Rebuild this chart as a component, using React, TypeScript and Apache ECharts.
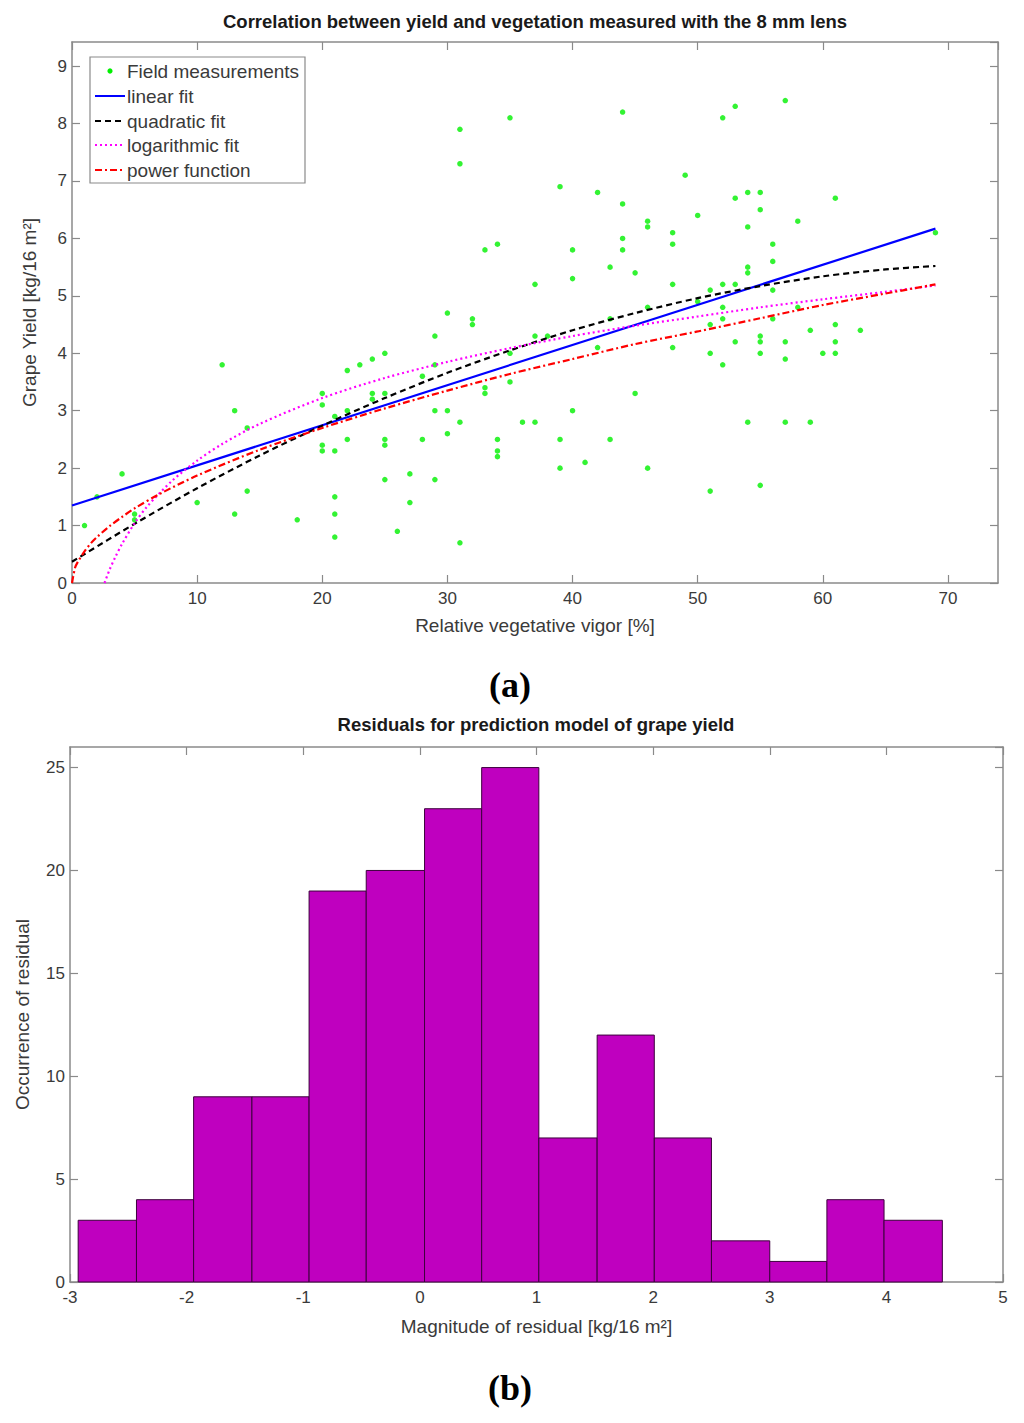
import React, { useEffect, useRef } from "react";
import * as echarts from "echarts";

// ---- Panel (a): field measurements ----
const vigor = [
  1, 2, 4, 5, 5, 10, 12, 13, 13, 14, 14, 18,
  20, 20, 20, 20, 21, 21, 21, 21, 21, 22, 22, 22, 23, 24, 24, 24,
  25, 25, 25, 25, 25, 26, 27, 27, 28, 28, 29, 29, 29, 29,
  30, 30, 30, 31, 31, 31, 31, 32, 32, 33, 33, 33, 34, 34, 34, 34,
  35, 35, 35, 36, 37, 37, 37, 38, 39, 39, 39, 40, 40, 40, 41, 42, 42,
  43, 43, 43, 44, 44, 44, 44, 45, 45, 46, 46, 46, 46, 48, 48, 48, 48,
  49, 50, 50, 51, 51, 51, 51, 52, 52, 52, 52, 52, 53, 53, 53, 53,
  54, 54, 54, 54, 54, 55, 55, 55, 55, 55, 55, 56, 56, 56, 56,
  57, 57, 57, 57, 58, 58, 59, 59, 60, 61, 61, 61, 61, 63, 69,
];
const grapeYield = [
  1.0, 1.5, 1.9, 1.2, 1.1, 1.4, 3.8, 3.0, 1.2, 2.7, 1.6, 1.1,
  3.3, 3.1, 2.4, 2.3, 2.9, 2.3, 1.5, 1.2, 0.8, 3.7, 3.0, 2.5, 3.8, 3.9, 3.3, 3.2,
  4.0, 3.3, 2.5, 2.4, 1.8, 0.9, 1.9, 1.4, 3.6, 2.5, 4.3, 3.8, 3.0, 1.8,
  4.7, 3.0, 2.6, 7.9, 7.3, 2.8, 0.7, 4.6, 4.5, 5.8, 3.4, 3.3, 5.9, 2.5, 2.3, 2.2,
  8.1, 4.0, 3.5, 2.8, 5.2, 4.3, 2.8, 4.3, 6.9, 2.5, 2.0, 5.8, 5.3, 3.0, 2.1, 6.8, 4.1,
  5.5, 4.6, 2.5, 8.2, 6.6, 6.0, 5.8, 5.4, 3.3, 6.3, 6.2, 4.8, 2.0, 6.1, 5.9, 5.2, 4.1,
  7.1, 6.4, 4.9, 5.1, 4.5, 4.0, 1.6, 8.1, 5.2, 4.8, 4.6, 3.8, 8.3, 6.7, 5.2, 4.2,
  6.8, 6.2, 5.5, 5.4, 2.8, 6.8, 6.5, 4.3, 4.2, 4.0, 1.7, 5.9, 5.6, 5.1, 4.6,
  8.4, 4.2, 3.9, 2.8, 6.3, 4.8, 4.4, 2.8, 4.0, 6.7, 4.5, 4.2, 4.0, 4.4, 6.1,
];

// Fitted curves at sample positions
const linearX = [0, 69];
const linearY = [1.35, 6.17];
const quadX = [0, 5, 10, 15, 20, 25, 30, 35, 40, 45, 50, 55, 60, 65, 69];
const quadY = [0.37, 1.03, 1.65, 2.22, 2.74, 3.22, 3.66, 4.05, 4.4, 4.7, 4.96, 5.17, 5.34, 5.46, 5.52];
const logX = [2.6, 3, 3.5, 4, 5, 6, 8, 10, 12, 15, 20, 25, 30, 35, 40, 45, 50, 55, 60, 65, 69];
const logY = [0, 0.23, 0.47, 0.68, 1.04, 1.33, 1.78, 2.13, 2.42, 2.77, 3.22, 3.57, 3.85, 4.09, 4.3, 4.48, 4.64, 4.8, 4.94, 5.07, 5.18];
const powX = [0, 0.25, 0.5, 1, 1.5, 2, 3, 4, 5, 7, 10, 15, 20, 25, 30, 35, 40, 45, 50, 55, 60, 65, 69];
const powY = [0, 0.27, 0.38, 0.55, 0.69, 0.8, 0.99, 1.15, 1.3, 1.55, 1.87, 2.32, 2.7, 3.04, 3.35, 3.64, 3.9, 4.16, 4.38, 4.61, 4.84, 5.04, 5.2];

const legendNames = ["Field measurements", "linear fit", "quadratic fit", "logarithmic fit", "power function"];

// ---- Panel (b): residual histogram ----
const binEdges = [-2.93, -2.43, -1.94, -1.44, -0.95, -0.46, 0.04, 0.53, 1.02, 1.52, 2.01, 2.5, 3.0, 3.49, 3.98, 4.48];
const binCounts = [3, 4, 9, 9, 19, 20, 23, 25, 7, 12, 7, 2, 1, 4, 3];

const FONT = "'Liberation Sans', Arial, Helvetica, sans-serif";
const AXIS_GRAY = "#8a8a8a";
const LABEL = "#3a3a3a";

function pairs(xs: number[], ys: number[]) {
  return xs.map((x, i) => [x, ys[i]]);
}

function baseAxis(extra: any) {
  return {
    type: "value",
    axisLine: { show: true, onZero: false, lineStyle: { color: AXIS_GRAY, width: 1.5 } },
    axisTick: { show: true, inside: true, length: 8, lineStyle: { color: AXIS_GRAY, width: 1.2 } },
    splitLine: { show: false },
    axisLabel: { color: LABEL, fontSize: 17, fontFamily: FONT, showMaxLabel: false },
    nameTextStyle: { color: LABEL, fontSize: 19, fontFamily: FONT },
    ...extra,
  };
}

export default function App() {
  const ref = useRef<HTMLDivElement>(null);

  useEffect(() => {
    if (!ref.current) return;
    const chart = echarts.init(ref.current, undefined, { renderer: "svg" });

    const legendRowY = [71, 96, 121, 145, 170];
    const legendLines: any[] = [
      { color: "#0000ff", dash: null },
      { color: "#000000", dash: [6, 4] },
      { color: "#ff00ff", dash: [2, 3] },
      { color: "#ff0000", dash: [7, 3, 2, 3] },
    ];

    const legendGraphic: any[] = [
      {
        type: "rect",
        shape: { x: 90, y: 57, width: 215, height: 126 },
        style: { fill: "#ffffff", stroke: "#8a8a8a", lineWidth: 1.2 },
        z: 100,
      },
      {
        type: "circle",
        shape: { cx: 110, cy: legendRowY[0], r: 2.6 },
        style: { fill: "#00f000" },
        z: 101,
      },
      ...legendLines.map((l, i) => ({
        type: "line",
        shape: { x1: 95, y1: legendRowY[i + 1], x2: 125, y2: legendRowY[i + 1] },
        style: { stroke: l.color, lineWidth: 2, lineDash: l.dash },
        z: 101,
      })),
      ...legendNames.map((n, i) => ({
        type: "text",
        x: 127,
        y: legendRowY[i],
        style: {
          text: n,
          fill: LABEL,
          font: `19px ${FONT}`,
          verticalAlign: "middle",
          textAlign: "left",
        },
        z: 101,
      })),
    ];

    const panelLabels: any[] = [
      {
        type: "text",
        x: 510,
        y: 685,
        style: {
          text: "(a)",
          fill: "#000",
          font: "bold 36px 'Liberation Serif', 'Times New Roman', serif",
          textAlign: "center",
          verticalAlign: "middle",
        },
      },
      {
        type: "text",
        x: 510,
        y: 1388,
        style: {
          text: "(b)",
          fill: "#000",
          font: "bold 36px 'Liberation Serif', 'Times New Roman', serif",
          textAlign: "center",
          verticalAlign: "middle",
        },
      },
    ];

    const option: any = {
      animation: false,
      backgroundColor: "#ffffff",
      title: [
        {
          text: "Correlation between yield and vegetation measured with the 8 mm lens",
          left: 535,
          top: 12,
          textAlign: "center",
          padding: 0,
          textStyle: { fontSize: 18.5, fontWeight: "bold", color: "#1a1a1a", fontFamily: FONT },
        },
        {
          text: "Residuals for prediction model of grape yield",
          left: 536,
          top: 715,
          textAlign: "center",
          padding: 0,
          textStyle: { fontSize: 18.5, fontWeight: "bold", color: "#1a1a1a", fontFamily: FONT },
        },
      ],
      grid: [
        { left: 72, top: 42, width: 926, height: 541, show: false },
        { left: 70, top: 747, width: 933, height: 535, show: false },
      ],
      xAxis: [
        baseAxis({
          gridIndex: 0,
          position: "bottom",
          min: 0,
          max: 74,
          interval: 10,
          name: "Relative vegetative vigor [%]",
          nameLocation: "middle",
          nameGap: 33,
          axisLabel: { color: LABEL, fontSize: 17, fontFamily: FONT, showMaxLabel: false, margin: 7 },
        }),
        baseAxis({
          gridIndex: 0,
          position: "top",
          min: 0,
          max: 74,
          interval: 10,
          axisLabel: { show: false },
        }),
        baseAxis({
          gridIndex: 1,
          position: "bottom",
          min: -3,
          max: 5,
          interval: 1,
          name: "Magnitude of residual [kg/16 m²]",
          nameLocation: "middle",
          nameGap: 35,
          axisLabel: { color: LABEL, fontSize: 17, fontFamily: FONT, margin: 7 },
        }),
        baseAxis({
          gridIndex: 1,
          position: "top",
          min: -3,
          max: 5,
          interval: 1,
          axisLabel: { show: false },
        }),
      ],
      yAxis: [
        baseAxis({
          gridIndex: 0,
          position: "left",
          min: 0,
          max: 9.42,
          interval: 1,
          name: "Grape Yield [kg/16 m²]",
          nameLocation: "middle",
          nameGap: 33,
          axisLabel: { color: LABEL, fontSize: 17, fontFamily: FONT, showMaxLabel: false, margin: 5 },
        }),
        baseAxis({
          gridIndex: 0,
          position: "right",
          min: 0,
          max: 9.42,
          interval: 1,
          axisLabel: { show: false },
        }),
        baseAxis({
          gridIndex: 1,
          position: "left",
          min: 0,
          max: 26,
          interval: 5,
          name: "Occurrence of residual",
          nameLocation: "middle",
          nameGap: 38,
          axisLabel: { color: LABEL, fontSize: 17, fontFamily: FONT, showMaxLabel: false, margin: 5 },
        }),
        baseAxis({
          gridIndex: 1,
          position: "right",
          min: 0,
          max: 26,
          interval: 5,
          axisLabel: { show: false },
        }),
      ],
      series: [
        {
          name: legendNames[0],
          type: "scatter",
          xAxisIndex: 0,
          yAxisIndex: 0,
          data: pairs(vigor, grapeYield),
          symbol: "circle",
          symbolSize: 5.5,
          itemStyle: { color: "#00f000" },
          z: 2,
        },
        {
          name: legendNames[1],
          type: "line",
          xAxisIndex: 0,
          yAxisIndex: 0,
          data: pairs(linearX, linearY),
          showSymbol: false,
          symbol: "none",
          lineStyle: { color: "#0000ff", width: 2.2 },
          z: 3,
        },
        {
          name: legendNames[2],
          type: "line",
          xAxisIndex: 0,
          yAxisIndex: 0,
          data: pairs(quadX, quadY),
          smooth: 0.3,
          symbol: "none",
          lineStyle: { color: "#000000", width: 2.2, type: [6, 4] },
          z: 3,
        },
        {
          name: legendNames[3],
          type: "line",
          xAxisIndex: 0,
          yAxisIndex: 0,
          data: pairs(logX, logY),
          smooth: 0.3,
          symbol: "none",
          lineStyle: { color: "#ff00ff", width: 2.2, type: [2, 3] },
          z: 3,
        },
        {
          name: legendNames[4],
          type: "line",
          xAxisIndex: 0,
          yAxisIndex: 0,
          data: pairs(powX, powY),
          smooth: 0.3,
          symbol: "none",
          lineStyle: { color: "#ff0000", width: 2.2, type: [7, 3, 2, 3] },
          z: 3,
        },
        {
          name: "residuals",
          type: "custom",
          xAxisIndex: 2,
          yAxisIndex: 2,
          data: binCounts.map((c, i) => [binEdges[i], binEdges[i + 1], c]),
          encode: { x: [0, 1], y: 2 },
          renderItem: (params: any, api: any) => {
            const p0 = api.coord([api.value(0), api.value(2)]);
            const p1 = api.coord([api.value(1), 0]);
            return {
              type: "rect",
              shape: { x: p0[0], y: p0[1], width: p1[0] - p0[0], height: p1[1] - p0[1] },
              style: { fill: "#bf00bf", stroke: "#3d003d", lineWidth: 1 },
            };
          },
          z: 2,
        },
      ],
      graphic: [...legendGraphic, ...panelLabels],
    };

    chart.setOption(option);
    return () => chart.dispose();
  }, []);

  return (
    <div
      ref={ref}
      style={{ position: "absolute", left: 0, top: 0, width: 1024, height: 1423, background: "#fff" }}
    />
  );
}
